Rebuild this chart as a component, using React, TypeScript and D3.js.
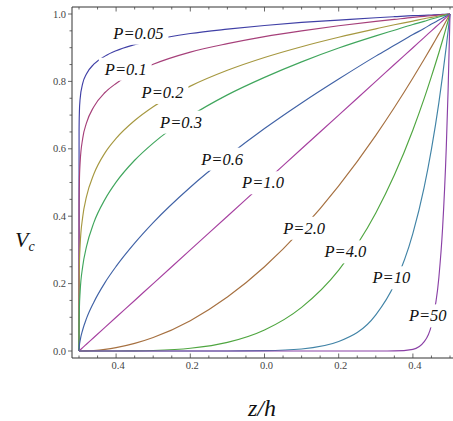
import React, { useEffect, useRef } from "react";
import * as d3 from "d3";

// z/h sample positions (shared by every curve)
const zSamples = [
  -0.5, -0.4998, -0.499, -0.497, -0.49, -0.48, -0.46, -0.43, -0.4, -0.35, -0.3, -0.2, -0.1,
  0.0, 0.1, 0.2, 0.3, 0.35, 0.4, 0.43, 0.45, 0.47, 0.48, 0.49, 0.495, 0.5,
];

// V_c values at the z samples above
const vP005 = [0, 0.653, 0.708, 0.748, 0.794, 0.822, 0.851, 0.875, 0.891, 0.909, 0.923, 0.942, 0.955, 0.966, 0.975, 0.982, 0.989, 0.992, 0.995, 0.996, 0.997, 0.998, 0.999, 0.999, 1.0, 1.0];
const vP01 = [0, 0.427, 0.501, 0.559, 0.631, 0.676, 0.725, 0.767, 0.794, 0.827, 0.851, 0.887, 0.912, 0.933, 0.95, 0.965, 0.978, 0.984, 0.99, 0.993, 0.995, 0.997, 0.998, 0.999, 0.9995, 1.0];
const vP02 = [0, 0.182, 0.251, 0.313, 0.398, 0.457, 0.525, 0.588, 0.631, 0.684, 0.725, 0.786, 0.833, 0.871, 0.903, 0.931, 0.956, 0.968, 0.979, 0.986, 0.99, 0.994, 0.996, 0.998, 0.999, 1.0];
const vP03 = [0, 0.078, 0.126, 0.175, 0.251, 0.309, 0.381, 0.45, 0.501, 0.566, 0.617, 0.697, 0.76, 0.812, 0.858, 0.899, 0.935, 0.952, 0.969, 0.978, 0.985, 0.991, 0.994, 0.997, 0.998, 1.0];
const vP06 = [0, 0.006, 0.016, 0.031, 0.063, 0.096, 0.145, 0.203, 0.251, 0.32, 0.381, 0.486, 0.577, 0.66, 0.736, 0.807, 0.875, 0.907, 0.939, 0.957, 0.97, 0.982, 0.988, 0.994, 0.997, 1.0];
const vP1 = [0, 0.0002, 0.001, 0.003, 0.01, 0.02, 0.04, 0.07, 0.1, 0.15, 0.2, 0.3, 0.4, 0.5, 0.6, 0.7, 0.8, 0.85, 0.9, 0.93, 0.95, 0.97, 0.98, 0.99, 0.995, 1.0];
const vP2 = [0, 0, 0, 0, 0.0001, 0.0004, 0.0016, 0.0049, 0.01, 0.0225, 0.04, 0.09, 0.16, 0.25, 0.36, 0.49, 0.64, 0.7225, 0.81, 0.865, 0.9025, 0.941, 0.96, 0.98, 0.99, 1.0];
const vP4 = [0, 0, 0, 0, 0, 0, 0, 0, 0.0001, 0.0005, 0.0016, 0.0081, 0.0256, 0.0625, 0.1296, 0.2401, 0.4096, 0.522, 0.656, 0.748, 0.815, 0.885, 0.922, 0.961, 0.98, 1.0];
const vP10 = [0, 0, 0, 0, 0, 0, 0, 0, 0, 0, 0, 0, 0.0001, 0.001, 0.006, 0.028, 0.107, 0.197, 0.349, 0.484, 0.599, 0.737, 0.817, 0.904, 0.951, 1.0];
const vP50 = [0, 0, 0, 0, 0, 0, 0, 0, 0, 0, 0, 0, 0, 0, 0, 0, 0, 0.0003, 0.005, 0.027, 0.077, 0.218, 0.364, 0.605, 0.778, 1.0];

const curveLabels = ["P=0.05", "P=0.1", "P=0.2", "P=0.3", "P=0.6", "P=1.0", "P=2.0", "P=4.0", "P=10", "P=50"];
const curveValues = [vP005, vP01, vP02, vP03, vP06, vP1, vP2, vP4, vP10, vP50];
// where each label sits, in data units [z, V]
const labelPos = [
  [-0.34, 0.944], [-0.374, 0.837], [-0.275, 0.768], [-0.225, 0.68],
  [-0.114, 0.57], [-0.004, 0.5], [0.107, 0.365], [0.218, 0.295], [0.342, 0.218], [0.44, 0.105],
];

const xTicks = [-0.4, -0.2, 0.0, 0.2, 0.4];
const yTicks = [0.0, 0.2, 0.4, 0.6, 0.8, 1.0];

const colors = [
  "#4040a6", "#a6407a", "#a69840", "#40a65d", "#4062a6",
  "#a640a0", "#a67040", "#4fa640", "#4083a6", "#8a40a6",
];

const W = 453;
const H = 421;
const serif = "Liberation Serif, Times New Roman, serif";

const App = () => {
  const ref = useRef<SVGSVGElement | null>(null);

  useEffect(() => {
    const svg = d3.select(ref.current);
    svg.selectAll("*").remove();

    const x = d3.scaleLinear().domain([-0.5, 0.5]).range([79, 450]);
    const y = d3.scaleLinear().domain([0, 1]).range([351, 14]);

    // frame box (padded around the data range like Mathematica)
    const fx0 = 72, fx1 = 457, fy0 = 7, fy1 = 358;

    const lines = svg.append("g");
    curveValues.forEach((vals, i) => {
      const pts = zSamples.map((z, j) => [z, vals[j]] as [number, number]);
      const line = d3
        .line<[number, number]>()
        .x(d => x(d[0]))
        .y(d => y(d[1]))
        .curve(d3.curveMonotoneX);
      lines
        .append("path")
        .datum(pts)
        .attr("fill", "none")
        .attr("stroke", colors[i])
        .attr("stroke-width", 1.15)
        .attr("d", line);
    });

    // curve labels with white knock-out behind
    const labels = svg.append("g");
    curveLabels.forEach((txt, i) => {
      const [lz, lv] = labelPos[i];
      const g = labels.append("g").attr("transform", `translate(${x(lz)},${y(lv)})`);
      const t = g
        .append("text")
        .attr("text-anchor", "middle")
        .attr("dy", "0.35em")
        .style("font-family", serif)
        .style("font-style", "italic")
        .style("font-size", "16.5px")
        .attr("fill", "#111")
        .text(txt);
      const bb = (t.node() as SVGTextElement).getBBox();
      g.insert("rect", "text")
        .attr("x", bb.x - 5)
        .attr("y", bb.y - 2)
        .attr("width", bb.width + 10)
        .attr("height", bb.height + 4)
        .attr("fill", "#fff");
    });

    // frame
    const frame = svg.append("g").attr("stroke", "#333").attr("stroke-width", 1).attr("fill", "none");
    frame.append("line").attr("x1", fx0).attr("x2", fx0).attr("y1", fy0).attr("y2", fy1);
    frame.append("line").attr("x1", fx0).attr("x2", fx1).attr("y1", fy1).attr("y2", fy1);
    frame.append("line").attr("x1", fx0).attr("x2", fx1).attr("y1", fy0).attr("y2", fy0);

    const minor = d3.range(-0.5, 0.5001, 0.05);
    const tickG = svg.append("g").attr("stroke", "#444").attr("stroke-width", 0.8);
    minor.forEach(v => {
      const isMajor = xTicks.some(t => Math.abs(t - v) < 1e-6);
      const len = isMajor ? 4.5 : 2.5;
      tickG.append("line").attr("x1", x(v)).attr("x2", x(v)).attr("y1", fy1).attr("y2", fy1 - len);
      tickG.append("line").attr("x1", x(v)).attr("x2", x(v)).attr("y1", fy0).attr("y2", fy0 + len);
    });
    d3.range(0, 1.0001, 0.05).forEach(v => {
      const isMajor = yTicks.some(t => Math.abs(t - v) < 1e-6);
      const len = isMajor ? 4 : 2.5;
      tickG.append("line").attr("x1", fx0).attr("x2", fx0 - len).attr("y1", y(v)).attr("y2", y(v));
    });

    svg
      .append("g")
      .selectAll("text")
      .data(xTicks)
      .enter()
      .append("text")
      .attr("x", d => x(d) + 2)
      .attr("y", 369)
      .attr("text-anchor", "middle")
      .style("font-family", serif)
      .style("font-size", "10.5px")
      .attr("fill", "#444")
      .text(d => Math.abs(d).toFixed(1));

    svg
      .append("g")
      .selectAll("text")
      .data(yTicks)
      .enter()
      .append("text")
      .attr("x", 66)
      .attr("y", d => y(d))
      .attr("dy", "0.35em")
      .attr("text-anchor", "end")
      .style("font-family", serif)
      .style("font-size", "10.5px")
      .attr("fill", "#444")
      .text(d => d.toFixed(1));

    // axis titles
    const yt = svg
      .append("text")
      .attr("x", 15)
      .attr("y", 247)
      .style("font-family", serif)
      .style("font-style", "italic")
      .style("font-size", "22px")
      .attr("fill", "#111");
    yt.append("tspan").text("V");
    yt.append("tspan").style("font-size", "14px").attr("dy", 4).text("c");

    svg
      .append("text")
      .attr("x", 262)
      .attr("y", 416)
      .attr("text-anchor", "middle")
      .style("font-family", serif)
      .style("font-style", "italic")
      .style("font-size", "24px")
      .attr("fill", "#111")
      .text("z/h");
  }, []);

  return (
    <svg
      ref={ref}
      width={W}
      height={H}
      style={{ position: "absolute", left: 0, top: 0, background: "#fff" }}
    />
  );
};

export default App;
